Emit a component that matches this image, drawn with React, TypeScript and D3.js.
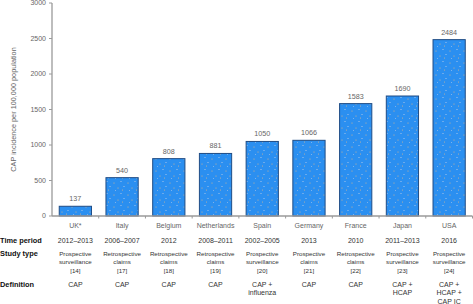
import React from "react";
import * as d3 from "d3";

const countries = ["UK*", "Italy", "Belgium", "Netherlands", "Spain", "Germany", "France", "Japan", "USA"];
const incidence = [137, 540, 808, 881, 1050, 1066, 1583, 1690, 2484];
const yTicks = [0, 500, 1000, 1500, 2000, 2500, 3000];
const timePeriods = ["2012–2013", "2006–2007", "2012", "2008–2011", "2002–2005", "2013", "2010", "2011–2013", "2016"];
const studyTypes = [
  ["Prospective", "surveillance", "[14]"],
  ["Retrospective", "claims", "[17]"],
  ["Retrospective", "claims", "[18]"],
  ["Retrospective", "claims", "[19]"],
  ["Prospective", "surveillance", "[20]"],
  ["Prospective", "claims", "[21]"],
  ["Retrospective", "claims", "[22]"],
  ["Prospective", "surveillance", "[23]"],
  ["Prospective", "surveillance", "[24]"],
];
const definitions = [
  ["CAP"],
  ["CAP"],
  ["CAP"],
  ["CAP"],
  ["CAP +", "influenza"],
  ["CAP"],
  ["CAP"],
  ["CAP +", "HCAP"],
  ["CAP +", "HCAP +", "CAP IC"],
];
const rowLabels = ["Time period", "Study type", "Definition"];

const W = 473;
const H = 304;
const left = 52;
const right = 472.5;
const top = 3;
const bottom = 216;

export default function App() {
  const x = d3.scaleBand<string>().domain(countries).range([left, right]).paddingInner(0.31).paddingOuter(0.155);
  const y = d3.scaleLinear().domain([0, 3000]).range([bottom, top]);
  const font = "'Liberation Sans', Arial, Helvetica, sans-serif";
  const axisColor = "#9a9a9a";
  const labelColor = "#666";
  const tableColor = "#333";
  const step = x.step();
  const boundaries = d3.range(1, countries.length).map((i) => left + x.paddingOuter() * step + i * step - x.paddingInner() * step / 2 - (x.paddingOuter() * step - x.paddingInner() * step / 2));

  return (
    <div style={{ position: "fixed", left: 0, top: 0, width: W, height: H, background: "#fff" }}>
      <svg width={W} height={H} style={{ display: "block", fontFamily: font }}>
        <defs>
          <pattern id="dots" width="14" height="12" patternUnits="userSpaceOnUse">
            <rect width="14" height="12" fill="#2b8ff0" />
            <circle cx="2" cy="3" r="0.55" fill="#d9b48a" />
            <circle cx="9" cy="1.5" r="0.5" fill="#cfd8e8" />
            <circle cx="6" cy="8" r="0.55" fill="#d9b48a" />
            <circle cx="12" cy="6.5" r="0.5" fill="#cfd8e8" />
            <circle cx="3.5" cy="10.5" r="0.45" fill="#cfd8e8" />
            <circle cx="10.5" cy="10" r="0.5" fill="#d9b48a" />
          </pattern>
        </defs>

        {/* bars */}
        {countries.map((c, i) => (
          <g key={c}>
            <rect
              x={x(c)!}
              y={y(incidence[i])}
              width={x.bandwidth()}
              height={bottom - y(incidence[i])}
              fill="url(#dots)"
              stroke="#1f4c85"
              strokeWidth={1}
            />
            <text x={x(c)! + x.bandwidth() / 2} y={y(incidence[i]) - 5} textAnchor="middle" fontSize={7.2} fill={labelColor}>
              {incidence[i]}
            </text>
          </g>
        ))}

        {/* y axis */}
        <line x1={left} x2={left} y1={y(3000)} y2={bottom} stroke={axisColor} strokeWidth={1.3} />
        {yTicks.map((t) => (
          <g key={t}>
            <line x1={left - 3} x2={left} y1={y(t)} y2={y(t)} stroke={axisColor} strokeWidth={1} />
            <text x={left - 6} y={y(t)} dy="0.35em" textAnchor="end" fontSize={7} fill={labelColor}>
              {t}
            </text>
          </g>
        ))}
        <text
          transform={`translate(16,${(y(3000) + bottom) / 2}) rotate(-90)`}
          textAnchor="middle"
          fontSize={7.3}
          fill={labelColor}
        >
          CAP incidence per 100,000 population
        </text>

        {/* x axis */}
        <line x1={left} x2={right} y1={bottom} y2={bottom} stroke={axisColor} strokeWidth={1.3} />
        {boundaries.map((b, i) => (
          <line key={i} x1={b} x2={b} y1={bottom} y2={bottom + 2.5} stroke={axisColor} strokeWidth={1} />
        ))}
        <line x1={right} x2={right} y1={bottom} y2={bottom + 2.5} stroke={axisColor} strokeWidth={1} />
        {countries.map((c) => (
          <text key={c} x={x(c)! + x.bandwidth() / 2} y={228} textAnchor="middle" fontSize={7} fill={labelColor}>
            {c}
          </text>
        ))}

        {/* table row labels */}
        {rowLabels.map((r, i) => (
          <text key={r} x={0} y={[242.5, 256, 287][i]} fontSize={7.4} fontWeight="bold" fill="#111">
            {r}
          </text>
        ))}

        {/* time periods */}
        {countries.map((c, i) => (
          <text key={c} x={x(c)! + x.bandwidth() / 2} y={242.5} textAnchor="middle" fontSize={7} fill={tableColor}>
            {timePeriods[i]}
          </text>
        ))}

        {/* study types */}
        {countries.map((c, i) => (
          <text key={c} x={x(c)! + x.bandwidth() / 2} y={255.5} textAnchor="middle" fontSize={6.2} fill={tableColor}>
            {studyTypes[i].map((s, j) => (
              <tspan key={j} x={x(c)! + x.bandwidth() / 2} dy={j === 0 ? 0 : 8.7}>
                {s}
              </tspan>
            ))}
          </text>
        ))}

        {/* definitions */}
        {countries.map((c, i) => (
          <text key={c} x={x(c)! + x.bandwidth() / 2} y={286.5} textAnchor="middle" fontSize={7} fill={tableColor}>
            {definitions[i].map((s, j) => (
              <tspan key={j} x={x(c)! + x.bandwidth() / 2} dy={j === 0 ? 0 : 8.7}>
                {s}
              </tspan>
            ))}
          </text>
        ))}
      </svg>
    </div>
  );
}
